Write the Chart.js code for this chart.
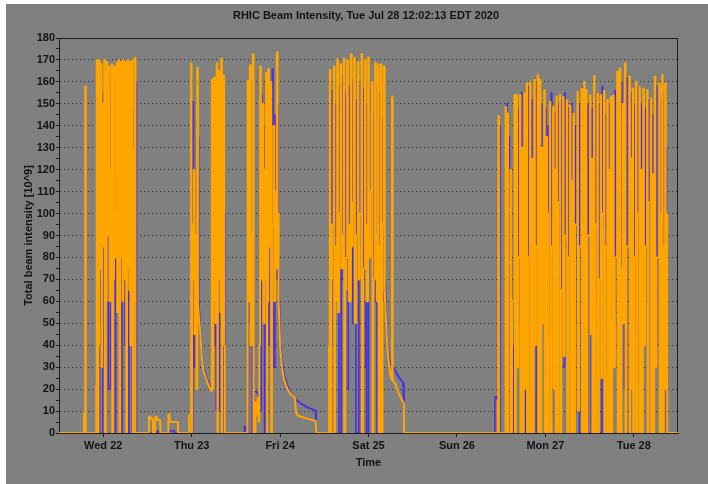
<!DOCTYPE html>
<html>
<head>
<meta charset="utf-8">
<script src="https://cdn.jsdelivr.net/npm/chart.js@4.4.1/dist/chart.umd.min.js"></script>
<style>
  html, body { margin: 0; padding: 0; background: #808080; width: 100%; height: 100%; overflow: hidden; }
  #topstrip { position: absolute; left: 0; top: 0; width: 100%; height: 4px; background: #ffffff; }
  #leftstrip { position: absolute; left: 0; top: 0; width: 6px; height: 100%; background: #ffffff; }
  #wrap { position: absolute; left: 6px; top: 4px; width: 702px; height: 480px; background: #808080; }
</style>
</head>
<body>
<div id="topstrip"></div><div id="leftstrip"></div>
<div id="wrap"><canvas id="c"></canvas></div>
<script>
// Hours measured from Wed Jul 22 00:00 (EDT); axis spans Tue 21 12:00 .. Tue 28 12:00
const chartTitle = 'RHIC Beam Intensity, Tue Jul 28 12:02:13 EDT 2020';
const yAxisTitle = 'Total beam intensity [10^9]';
const xAxisTitle = 'Time';
const dayTickHours = [0, 24, 48, 72, 96, 120, 144];
const dayLabels = ['Wed 22', 'Thu 23', 'Fri 24', 'Sat 25', 'Sun 26', 'Mon 27', 'Tue 28'];

// [hour, intensity] — orange ring, fills (null = break where a slow decay is drawn instead)
const orangeFills = [
[-12,0],[-5.3,0],[-5.2,9],[-4.95,9],[-4.9,158],[-4.75,0],[-2.0,0],[-1.9,22],
[-1.77,170],[-1.6,0],[-1.3,40],[-1.15,170],[-0.95,75],[-0.6,168],[-0.45,30],[-0.3,150],[-0.1,85],[0.3,170],[0.45,0],[0.7,60],[0.95,169],[1.15,90],[1.57,167],[1.7,60],[1.9,120],[2.05,95],[2.3,168],[2.45,0],[2.7,70],[2.93,167],[3.1,80],[3.45,100],[3.66,169],[3.8,55],[4.0,110],[4.1,85],[4.28,170],[4.4,0],[4.6,80],[4.83,169],[5.0,95],[5.25,60],[5.45,170],[5.6,70],[5.9,90],[6.1,169],[6.25,0],[6.45,75],[6.64,170],[6.8,88],[7.05,65],[7.27,169],[7.4,40],[7.7,95],[7.89,170],[8.0,0],[8.15,60],[8.3,130],[8.45,80],[8.62,171],[8.75,0],
[12.3,0],[12.4,7.5],[12.8,6.5],[13.4,6],[13.5,0],[14.0,0],[14.1,7.5],[14.5,6],[15.4,5.5],[15.5,0],[17.6,0],[17.7,8.5],[18.0,5],[20.2,4.5],[20.3,0],[23.2,0],[23.3,8],[23.6,8],
[23.82,168.5],[23.95,0],[24.1,95],[24.3,70],[24.6,120],[24.75,45],[25.1,90],[25.3,20],[25.53,166.5],[25.7,60],
[27,null],
[29.4,19],[29.5,161],[29.7,20],[29.9,60],[30.1,162],[30.3,75],[30.5,50],[30.8,168.5],[31.0,0],[31.1,70],[31.4,165],[31.6,90],[31.8,55],[32.0,170.7],[32.2,0],[32.3,80],[32.6,163],[32.8,40],[33.0,0],
[38.9,0],[39.2,160.4],[39.4,60],[39.6,95],[39.8,167.7],[40.0,40],[40.3,90],[40.6,172.6],[40.8,0],[41.0,0],[41.3,14],[41.6,8],[41.9,16],[42.2,5],[42.35,40],[42.6,167],[42.8,70],[43.0,100],[43.3,150],[43.5,50],[43.8,120],[44.0,70],[44.2,164],[44.4,0],[44.5,60],[44.8,166],[45.0,85],[45.4,160],[45.6,0],[45.8,95],[46.2,140],[46.4,60],[46.7,110],[46.9,75],[47.1,173.5],[47.3,100],[47.6,60],
[52,null],
[57.8,0],[61.1,0],[61.3,40],[61.5,165.5],[61.65,0],[61.9,70],[62.1,95],[62.6,167],[62.75,0],[62.95,60],[63.2,85],[63.5,170.3],[63.7,55],[64.0,100],[64.4,168],[64.6,75],[64.9,90],[65.3,170.8],[65.45,0],[65.7,65],[66.0,80],[66.2,170],[66.4,95],[66.7,60],[67.2,172.7],[67.4,85],[67.7,105],[68.1,171],[68.3,50],[68.6,90],[69.1,169],[69.3,70],[69.6,100],[70.1,172.7],[70.25,0],[70.5,75],[71.0,170],[71.2,95],[71.4,60],[71.9,171.2],[72.1,80],[72.5,110],[72.9,160],[73.1,0],[73.3,70],[73.8,168.8],[74.0,90],[74.3,60],[74.6,168],[74.75,0],[75.0,85],[75.4,168],[75.55,0],[75.8,95],[76.2,167],[76.4,65],
[77,null],
[78.3,24],[78.4,153.3],[78.55,24],
[80,null],
[81.65,0],[106.9,0],[107.0,15],[107.2,15],[107.25,144.5],[107.4,0],
[109.2,148.7],[109.35,0],[109.5,40],[109.7,145.6],[109.85,0],[110.5,120],[110.65,0],[110.95,60],
[111.6,154],[111.75,0],[112.0,90],[112.2,154],[112.35,30],[112.6,80],[113.1,154],[113.25,0],[113.5,100],
[113.7,130],[113.85,0],[114.1,70],[114.3,154.8],[114.45,20],[114.7,95],[114.9,159.4],[115.05,0],[115.35,80],
[115.8,160],[115.95,0],[116.2,60],[116.4,125],[116.55,0],[116.8,100],[117.0,161],[117.15,40],[117.45,85],
[117.9,163.2],[118.05,0],[118.3,75],[118.5,161],[118.65,0],[118.9,105],[119.1,130],[119.25,50],[119.5,90],
[119.7,156.3],[119.85,0],[120.1,70],[120.3,135],[120.45,0],[120.75,100],[121.2,151],[121.35,0],[121.65,85],
[122.1,148.7],[122.25,20],[122.45,95],[122.6,120],[122.75,0],[122.9,75],[123.0,153.2],[123.15,0],[123.45,105],
[123.9,154],[124.05,0],[124.35,65],[124.8,153.2],[124.95,35],[125.25,90],[125.8,151.7],[125.95,0],[126.25,80],
[126.7,149.4],[126.85,0],[127.05,100],[127.2,115],[127.35,0],[127.5,70],[127.6,145.6],[127.75,0],[128.05,95],
[128.7,155.5],[128.85,10],[129.15,85],[129.8,157],[129.95,0],[130.25,110],[130.5,160],[130.65,0],[130.85,60],
[131.0,156.3],[131.15,0],[131.45,90],[132.1,154],[132.25,45],[132.45,100],[132.6,125],[132.75,0],[133.0,80],
[133.2,162.7],[133.35,0],[133.65,95],[134.1,154.8],[134.25,0],[134.55,70],[135.0,154],[135.15,25],[135.45,100],
[135.9,156],[136.05,0],[136.35,85],[136.8,151.7],[136.95,0],[137.15,65],[137.3,120],[137.45,0],[137.6,90],
[137.7,153.2],[137.85,0],[138.15,105],[138.4,154],[138.55,30],[138.85,80],[139.5,164.7],[139.65,0],[139.95,95],
[140.2,166.2],[140.35,0],[140.65,75],[141.0,150],[141.15,50],[141.4,100],[141.6,168.5],[141.75,0],[142.05,85],
[142.8,162.4],[142.95,0],[143.1,70],[143.2,125],[143.35,20],[143.55,95],[143.7,157],[143.85,0],[144.15,80],
[144.6,160],[144.75,0],[145.05,100],[145.5,157.8],[145.65,0],[145.9,65],[146.1,120],[146.25,0],[146.45,90],
[146.6,157],[146.75,40],[147.05,85],[147.6,156.3],[147.75,0],[148.05,105],[148.6,152.5],[148.75,0],[148.95,75],
[149.2,118],[149.35,0],[149.55,95],[149.7,162.4],[149.85,30],[150.15,80],[150.9,159.4],[151.05,0],[151.35,100],
[151.7,163.2],[151.85,0],[152.15,85],[152.5,159.4],[152.65,20],[152.75,70],[152.9,100],[153.05,0],[156,0]
];

// [hour, intensity] — orange ring, slow decays after the last fill of a run
const orangeDecays = [
[25.7,60],[26.0,52],[26.3,47],[26.7,35],[27.2,28.5],[28.1,24],[29.0,20],[29.4,19],
[29.45,null],
[47.6,60],[48.0,40],[48.5,30],[49.0,25],[50.0,20],[51.0,17.5],[52.0,16],[52.3,10],[52.6,8.2],[53.5,7.5],[56.1,6.2],[57.7,5.5],[57.8,0],
[60,null],
[76.4,65],[76.9,45],[77.3,36],[77.8,27.3],[78.3,24],
[78.35,null],
[78.55,24],[79.2,22.6],[80.0,19],[80.6,16.6],[81.6,13.5],[81.65,0]
];

// [hour, intensity] — blue ring, fills
const blueFills = [
[-12,0],[-1.6,0],[-1.4,152],[-1.25,0],[-1.0,50],[-0.85,163],[-0.7,90],[-0.25,155],[-0.1,0],[0.6,150],[0.75,70],[1.25,158],[1.4,20],[2.0,163],[2.15,85],[2.6,154],[2.75,0],[3.3,161],[3.45,60],[3.95,150],[4.1,95],[4.55,157],[4.7,0],[5.1,160],[5.25,75],[5.75,163],[5.9,40],[6.4,152],[6.55,0],[6.95,160],[7.1,85],[7.6,150],[7.75,0],[8.3,148],[8.45,70],[8.9,160],[9.05,0],
[14.6,0],[14.65,1],[15.0,1],[15.05,0],[17.8,0],[17.85,1],[19.3,1],[19.35,0],
[23.7,0],[24.3,151],[24.5,30],[24.9,80],[25.7,135],[25.9,60],
[27,null],
[29.4,20],[29.8,150],[30.0,40],[30.5,145],[30.7,10],[31.5,161],[31.7,70],[32.3,155],[32.5,0],[32.8,100],[33.0,0],
[38.3,0],[38.35,3],[38.5,3],[38.55,0],
[39.0,0],[39.4,155],[39.6,50],[40.3,160],[40.5,0],[40.7,0],[40.8,18.8],[41.8,18],[42.2,10],[42.9,154],[43.1,80],[43.6,140],[43.8,0],[44.1,160],[44.3,40],[45.0,150],[45.2,90],[45.9,166],[46.1,30],[46.6,145],[46.8,70],[47.3,150],[47.5,80],
[52,null],
[57.8,0],[61.0,0],[61.8,156],[62.0,40],[62.9,150],[63.1,90],[63.8,158],[64.0,0],[64.6,163],[64.8,70],[65.6,155],[65.8,20],[66.5,158],[66.7,95],[67.5,161],[67.7,50],[68.4,152],[68.6,0],[69.4,160],[69.6,85],[70.4,157],[70.6,30],[71.3,150],[71.5,0],[72.0,161],[72.2,90],[73.0,145],[73.2,60],[74.1,158],[74.3,0],[74.9,155],[75.1,80],[75.8,143],[76.0,60],[76.5,70],
[79,null],
[81.65,0],[106.2,0],[106.3,16.5],[106.8,16.5],[106.85,0],[107.4,0],[107.55,140],[107.7,0],[109.3,0],[109.5,150],[109.65,10],[110.1,135],[110.25,0],[111.0,0],[111.2,40],[111.35,0],[111.9,150],[112.05,80],[112.6,148],[112.75,50],[113.5,155],[113.65,0],[114.6,145],[114.75,70],[115.3,158],[115.45,20],[116.2,152],[116.35,90],[117.4,160],[117.55,0],[118.2,157],[118.35,60],[118.9,150],[119.05,85],[120.0,148],[120.15,0],[120.7,140],[120.85,45],[121.6,155],[121.75,95],[122.5,146],[122.65,0],[123.4,150],[123.55,70],[124.3,152],[124.45,30],[125.2,155],[125.35,85],[126.2,148],[126.35,0],[127.1,150],[127.25,75],[128.0,140],[128.15,50],[129.1,150],[129.25,0],[130.2,158],[130.35,90],[130.8,145],[130.95,40],[131.5,150],[131.65,0],[132.5,148],[132.65,80],[133.6,155],[133.75,60],[134.5,150],[134.65,0],[135.4,158],[135.55,95],[136.3,145],[136.45,30],[137.2,150],[137.35,0],[138.0,148],[138.15,85],[138.8,156],[138.95,55],[139.9,158],[140.05,0],[140.6,160],[140.75,90],[141.3,148],[141.45,20],[142.0,162],[142.15,0],[143.2,155],[143.35,75],[144.1,150],[144.25,45],[145.0,158],[145.15,0],[145.9,150],[146.05,85],[147.0,148],[147.15,60],[148.0,152],[148.15,0],[149.0,145],[149.15,95],[150.1,158],[150.25,40],[151.3,152],[151.45,0],[152.1,155],[152.25,80],[152.7,130],[152.85,0],[156,0]
];

// [hour, intensity] — blue ring, slow decays
const blueDecays = [
[25.9,60],[26.3,48],[26.7,36],[27.2,29.5],[28.1,25],[29.0,21],[29.4,20],
[29.45,null],
[47.5,80],[48.0,42],[48.5,33],[49.0,27],[50.0,21.5],[51.0,17.8],[52.0,15.5],[53.4,13.8],[55.0,12],[56.1,11.2],[57.7,10.2],[57.75,4],[57.8,0],
[60,null],
[76.5,70],[76.9,45.4],[77.8,32],[78.7,30],[80.1,25.7],[81.4,22.8],[81.6,13.7],[81.65,0]
];

const toXY = arr => arr.map(p => ({ x: p[0], y: p[1] }));
const FONT = '"Liberation Sans", Arial, sans-serif';
const INK = '#141414';
const ORANGE = '#FFA500';
const BLUE = '#4B30E0';

const framePlugin = {
  id: 'frame',
  beforeDatasetsDraw(chart) {
    const a = chart.chartArea, ctx = chart.ctx;
    ctx.save();
    ctx.strokeStyle = '#1e1e1e';
    ctx.lineWidth = 1;
    ctx.strokeRect(Math.round(a.left) + 0.5, Math.round(a.top) + 0.5, Math.round(a.right - a.left) - 1, Math.round(a.bottom - a.top));
    ctx.restore();
  },
  afterDraw(chart) {
    const ctx = chart.ctx;
    ctx.save();
    ctx.fillStyle = INK;
    ctx.font = 'bold 11px ' + FONT;
    ctx.textAlign = 'center';
    ctx.textBaseline = 'middle';
    ctx.fillText(chartTitle, 360, 12);
    ctx.restore();
  }
};

const lineBase = { pointRadius: 0, tension: 0, borderJoinStyle: 'bevel', fill: false, spanGaps: false };

new Chart(document.getElementById('c'), {
  type: 'line',
  data: {
    datasets: [
      Object.assign({ label: 'Yellow', data: toXY(orangeFills), borderColor: ORANGE, borderWidth: 2, stepped: 'before', order: 0 }, lineBase),
      Object.assign({ label: 'Yellow decay', data: toXY(orangeDecays), borderColor: ORANGE, borderWidth: 2, order: 1 }, lineBase),
      Object.assign({ label: 'Blue', data: toXY(blueFills), borderColor: BLUE, borderWidth: 1.6, stepped: 'before', order: 2 }, lineBase),
      Object.assign({ label: 'Blue decay', data: toXY(blueDecays), borderColor: BLUE, borderWidth: 2, order: 3 }, lineBase)
    ]
  },
  options: {
    responsive: true,
    maintainAspectRatio: false,
    animation: false,
    events: [],
    layout: { padding: { top: 34, right: 30, left: 0, bottom: 0 } },
    plugins: { legend: { display: false }, tooltip: { enabled: false }, title: { display: false } },
    scales: {
      x: {
        type: 'linear', min: -12, max: 156,
        afterFit: s => { s.height = 51; },
        afterBuildTicks: s => { s.ticks = dayTickHours.map(v => ({ value: v })); },
        ticks: {
          callback: (v, i) => dayLabels[i],
          color: INK, font: { family: FONT, size: 11, weight: 'bold' }, padding: 2, maxRotation: 0, autoSkip: false
        },
        grid: { drawOnChartArea: false, tickLength: 4, tickColor: '#1e1e1e' },
        border: { color: '#1e1e1e', width: 1 },
        title: { display: true, text: xAxisTitle, color: INK, font: { family: FONT, size: 11, weight: 'bold' }, padding: { top: 0, bottom: 14 } }
      },
      y: {
        min: 0, max: 180,
        afterFit: s => { s.width = 53; },
        ticks: {
          stepSize: 5,
          callback: v => (v % 10 === 0 ? String(v) : ''),
          color: INK, font: { family: FONT, size: 11, weight: 'bold' }, padding: 1, autoSkip: false
        },
        grid: {
          color: c => (c.tick && c.tick.value % 10 === 0 && c.tick.value > 0 && c.tick.value < 180) ? '#303030' : 'rgba(0,0,0,0)',
          tickColor: '#1e1e1e', tickLength: 3, lineWidth: 1
        },
        border: { color: '#1e1e1e', width: 1, dash: [1, 3] },
        title: { display: true, text: yAxisTitle, color: INK, font: { family: FONT, size: 11, weight: 'bold' }, padding: { top: 16, bottom: 0 } }
      }
    }
  },
  plugins: [framePlugin]
});
</script>
</body>
</html>
